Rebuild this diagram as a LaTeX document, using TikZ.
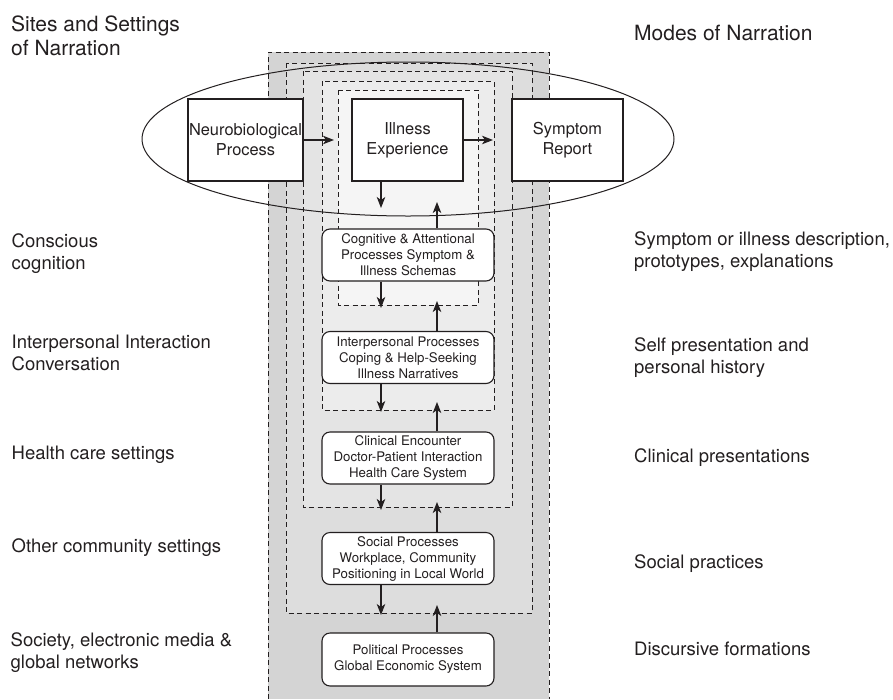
\documentclass[tikz,border=0pt]{standalone}
\usepackage{fontspec}
\setmainfont{TeX Gyre Heros}
\usetikzlibrary{arrows.meta}

\definecolor{ink}{HTML}{231F20}
\definecolor{shadeA}{gray}{0.83}
\definecolor{shadeB}{gray}{0.865}
\definecolor{shadeC}{gray}{0.895}
\definecolor{shadeD}{gray}{0.925}
\definecolor{shadeE}{gray}{0.96}

\tikzset{
  headtext/.style={inner sep=0pt, text=ink, align=left,
    font=\fontsize{21}{24}\selectfont},
  sidetext/.style={inner sep=0pt, text=ink, align=left,
    font=\fontsize{18.5}{22}\selectfont},
  procbox/.style={draw=ink, fill=white, line width=1.1pt, inner sep=0pt,
    minimum height=82pt, align=center, text=ink,
    font=\fontsize{16.4}{20}\selectfont},
  levelbox/.style={draw=ink, fill=white, line width=1.1pt, inner sep=0pt,
    rounded corners=8pt, minimum width=172pt, minimum height=52pt,
    align=center, text=ink, font=\fontsize{13.25}{16}\selectfont},
  layerline/.style={draw=ink, line width=1pt, dash pattern=on 5pt off 3.5pt},
  flow/.style={draw=ink, line width=1.1pt,
    -{Stealth[length=11pt,width=8.5pt,inset=3pt]}},
}

\begin{document}
\begin{tikzpicture}[x=1pt,y=-1pt]
\useasboundingbox (0,0) rectangle (893,699);

% nested settings: shaded bands, outermost open at the bottom
\fill[shadeA] (268,52) rectangle (549,699);
\fill[shadeB] (286,63) rectangle (532,613);
\fill[shadeC] (303,71) rectangle (512,507);
\fill[shadeD] (322,81) rectangle (494,410);
\fill[shadeE] (338,90) rectangle (478,305);
\draw[layerline] (268,699) |- (549,52) -- (549,699);
\draw[layerline] (286,63) rectangle (532,613);
\draw[layerline] (303,71) rectangle (512,507);
\draw[layerline] (322,81) rectangle (494,410);
\draw[layerline] (338,90) rectangle (478,305);

% ellipse round the three processes
\draw[ink, line width=1pt] (408,139) ellipse [x radius=266, y radius=77];

% process boxes
\node[procbox, minimum width=115pt] (neuro) at (245.5,140) {Neurobiological\\Process};
\node[procbox, minimum width=111pt] (illness) at (407.5,140) {Illness\\Experience};
\node[procbox, minimum width=111pt] (symptom) at (567.5,140) {Symptom\\Report};

% level boxes
\node[levelbox] (cog) at (408,255) {Cognitive \& Attentional\\Processes Symptom \&\\Illness Schemas};
\node[levelbox] (inter) at (408,357.5) {Interpersonal Processes\\Coping \& Help-Seeking\\Illness Narratives};
\node[levelbox] (clin) at (408,458) {Clinical Encounter\\Doctor-Patient Interaction\\Health Care System};
\node[levelbox] (social) at (408,558.5) {Social Processes\\Workplace, Community\\Positioning in Local World};
\node[levelbox, minimum height=53pt] (polit) at (408,659.5) {Political Processes\\Global Economic System};

% free arrow ends
\coordinate (h1) at (334,140);
\coordinate (h2) at (493,140);
\coordinate (d0) at (381,208);
\coordinate (d1) at (381,308);
\coordinate (d2) at (381,412);
\coordinate (d3) at (381,510);
\coordinate (d4) at (381,615);
\coordinate (u0) at (437,202);
\coordinate (u1) at (437,301);
\coordinate (u2) at (437,402);
\coordinate (u3) at (437,502);
\coordinate (u4) at (437,605);

% horizontal flow
\draw[flow] (neuro.east) -- (h1);
\draw[flow] (illness.east) -- (h2);

% downward flow
\draw[flow] (illness.south -| d0) -- (d0);
\draw[flow] (cog.south -| d1) -- (d1);
\draw[flow] (inter.south -| d2) -- (d2);
\draw[flow] (clin.south -| d3) -- (d3);
\draw[flow] (social.south -| d4) -- (d4);

% upward flow
\draw[flow] (cog.north -| u0) -- (u0);
\draw[flow] (inter.north -| u1) -- (u1);
\draw[flow] (clin.north -| u2) -- (u2);
\draw[flow] (social.north -| u3) -- (u3);
\draw[flow] (polit.north -| u4) -- (u4);

% sites and settings
\node[headtext, anchor=north west] (sitehead) at (11,15.6) {Sites and Settings\\of Narration};
\node[sidetext, anchor=north west] (site1) at (11.5,233.6) {Conscious\\cognition};
\node[sidetext, anchor=north west] (site2) at (11.5,334.6) {Interpersonal Interaction\\Conversation};
\node[sidetext, anchor=base west] (site3) at (11.5,459) {Health care settings};
\node[sidetext, anchor=base west] (site4) at (11.5,552) {Other community settings};
\node[sidetext, anchor=north west] (site5) at (10.5,632.6) {Society, electronic media \&\\global networks};

% modes of narration
\node[headtext, anchor=base west] (modehead) at (634,40) {Modes of Narration};
\node[sidetext, anchor=north west] (mode1) at (634,231.6) {Symptom or illness description,\\prototypes, explanations};
\node[sidetext, anchor=north west] (mode2) at (634,337.6) {Self presentation and\\personal history};
\node[sidetext, anchor=base west] (mode3) at (634,462) {Clinical presentations};
\node[sidetext, anchor=base west] (mode4) at (634,568) {Social practices};
\node[sidetext, anchor=base west] (mode5) at (634,655) {Discursive formations};
\end{tikzpicture}
\end{document}
